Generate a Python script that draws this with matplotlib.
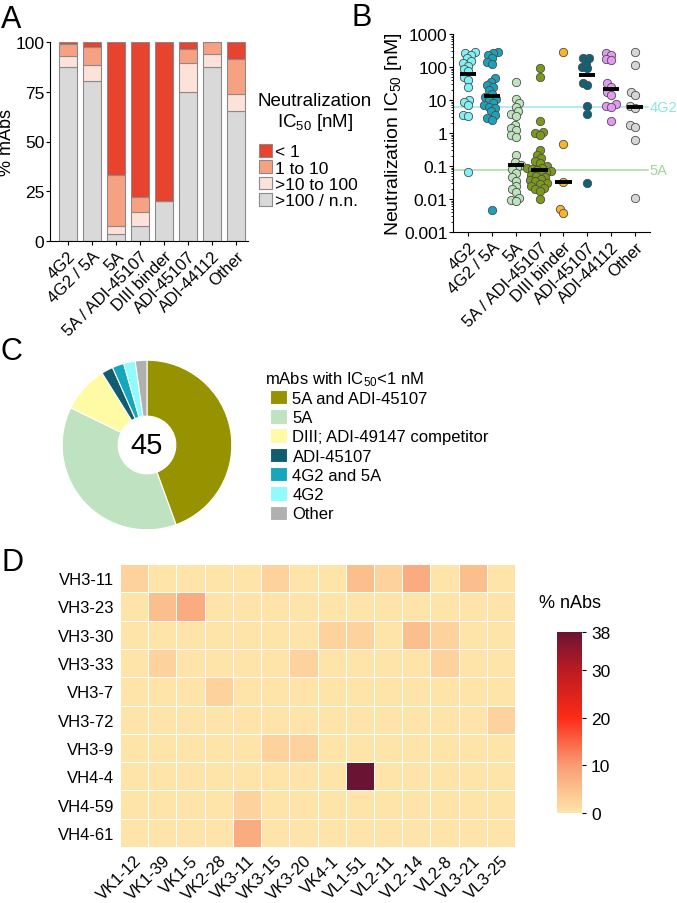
import numpy as np
import matplotlib
matplotlib.use('Agg')
import matplotlib.pyplot as plt
from matplotlib import font_manager
from matplotlib.colors import LinearSegmentedColormap
from matplotlib.ticker import FixedLocator, FixedFormatter, LogLocator, NullFormatter

# ---- data ----
groups = ['4G2', '4G2 / 5A', '5A', '5A / ADI-45107', 'DIII binder',
          'ADI-45107', 'ADI-44112', 'Other']

# panel A: % of mAbs per IC50 bin (bottom to top)
pct_gt100 = [87.5, 80.6, 3.7, 7.3, 20.0, 75.0, 87.5, 65.2]
pct_10_100 = [5.5, 7.8, 3.7, 7.3, 0.0, 14.3, 6.25, 8.7]
pct_1_10 = [5.8, 8.9, 25.9, 7.3, 0.0, 7.1, 6.25, 17.4]
pct_lt1 = [1.2, 2.7, 66.7, 78.1, 80.0, 3.6, 0.0, 8.7]
bin_labels = ['< 1', '1 to 10', '>10 to 100', '>100 / n.n.']

# panel B: IC50 values (nM)
ic50_4g2 = [290, 270, 230, 190, 150, 130, 110, 90, 75, 50, 40, 25, 10, 9, 7, 3.5, 3.2, 0.065]
ic50_4g2_5a = [280, 265, 225, 185, 140, 125, 45, 35, 28, 25, 20, 15, 12, 11, 10, 8, 7,
               6.3, 5.6, 4.5, 3.4, 2.8, 2.5, 0.0048]
ic50_5a = [35, 10.7, 8, 6.3, 4.5, 3.7, 3.2, 1.8, 1.4, 1.26, 0.9, 0.74, 0.21, 0.13, 0.11,
           0.093, 0.08, 0.063, 0.047, 0.036, 0.025, 0.02, 0.016, 0.011, 0.0093, 0.0085]
ic50_5a_adi = [95, 50, 2.3, 1.1, 1.0, 0.85, 0.3, 0.22, 0.17, 0.14, 0.12, 0.1, 0.09, 0.085,
               0.08, 0.075, 0.07, 0.065, 0.06, 0.055, 0.05, 0.045, 0.04, 0.037, 0.034,
               0.03, 0.028, 0.025, 0.022, 0.02, 0.018, 0.01]
ic50_diii = [280, 0.45, 0.033, 0.005, 0.0038]
ic50_adi45107 = [190, 185, 135, 100, 95, 33, 28, 6.5, 3.8, 0.03]
ic50_adi44112 = [270, 230, 180, 160, 32, 25, 18, 14, 7.5, 6.8, 6.2, 2.3]
ic50_other = [280, 115, 18, 14, 6.5, 5.8, 1.7, 1.5, 0.6, 0.0105]
ic50_medians = [62, 13.5, 0.11, 0.076, 0.033, 58, 21, 6.3]
ref_4g2 = 6.3
ref_5a = 0.075

# panel C
pie_labels = ['5A and ADI-45107', '5A', 'DIII; ADI-49147 competitor', 'ADI-45107',
              '4G2 and 5A', '4G2', 'Other']
pie_counts = [20, 17, 4, 1, 1, 1, 1]

# panel D
vh_genes = ['VH3-11', 'VH3-23', 'VH3-30', 'VH3-33', 'VH3-7', 'VH3-72', 'VH3-9',
            'VH4-4', 'VH4-59', 'VH4-61']
vl_genes = ['VK1-12', 'VK1-39', 'VK1-5', 'VK2-28', 'VK3-11', 'VK3-15', 'VK3-20',
            'VK4-1', 'VL1-51', 'VL2-11', 'VL2-14', 'VL2-8', 'VL3-21', 'VL3-25']
nabs_pct = [
    [2.6, 0, 0, 0, 0, 2.6, 0, 0, 5.3, 2.6, 7.9, 0, 5.3, 0],
    [0, 5.3, 7.9, 0, 0, 0, 0, 0, 0, 0, 0, 0, 0, 0],
    [0, 0, 0, 0, 0, 0, 0, 2.6, 2.6, 0, 5.3, 2.6, 0, 0],
    [0, 2.6, 0, 0, 0, 0, 2.6, 0, 0, 0, 0, 2.6, 0, 0],
    [0, 0, 0, 2.6, 0, 0, 0, 0, 0, 0, 0, 0, 0, 0],
    [0, 0, 0, 0, 0, 0, 0, 0, 0, 0, 0, 0, 0, 2.6],
    [0, 0, 0, 0, 0, 2.6, 2.6, 0, 0, 0, 0, 0, 0, 0],
    [0, 0, 0, 0, 0, 0, 0, 0, 38, 0, 0, 0, 0, 0],
    [0, 0, 0, 0, 2.6, 0, 0, 0, 0, 0, 0, 0, 0, 0],
    [0, 0, 0, 0, 7.9, 0, 0, 0, 0, 0, 0, 0, 0, 0],
]

# ---- style ----
plt.rcParams['font.family'] = ['Liberation Sans', 'DejaVu Sans']
plt.rcParams['mathtext.default'] = 'regular'
try:
    font_manager.findfont(font_manager.FontProperties(family='Liberation Sans Narrow'),
                          fallback_to_default=False)
    narrow, nfs = ['Liberation Sans Narrow', 'Liberation Sans'], 13.5
except ValueError:
    narrow, nfs = ['Liberation Sans', 'DejaVu Sans'], 12

W, H = 677, 904
fig = plt.figure(figsize=(W / 100, H / 100), dpi=100)


def box(l, t, r, b):
    # axes from pixel edges
    return fig.add_axes([l / W, 1 - b / H, (r - l) / W, (b - t) / H])


def ftext(x, y, s, **kw):
    return fig.text(x / W, 1 - y / H, s, **kw)


def swarm(vals, d=5.2, ppd=33.0, ppx=23.9):
    # simple beeswarm offsets (in category units); d < marker size lets dots overlap
    ys = np.log10(vals) * ppd
    xs = np.zeros(len(vals))
    placed = []
    for i in np.argsort(ys):
        y = ys[i]
        cands = [0.0]
        for px, py in placed:
            dy = abs(y - py)
            if dy < d:
                dx = np.sqrt(d * d - dy * dy)
                cands += [px - dx, px + dx]
        cands.sort(key=abs)
        for c in cands:
            if all((c - px) ** 2 + (y - py) ** 2 >= d * d - 1e-6 for px, py in placed):
                break
        placed.append((c, y))
        xs[i] = c / ppx
    return xs


# ---- A: stacked bars ----
axA = box(50, 43, 248, 242)
x = np.arange(len(groups))
bin_colors = ['#e8432f', '#f7a183', '#fde2d9', '#d9d9d9']
stack = [pct_gt100, pct_10_100, pct_1_10, pct_lt1]
stack_colors = bin_colors[::-1]
bottom = np.zeros(len(groups))
bars = []
for vals, col in zip(stack, stack_colors):
    b = axA.bar(x, vals, bottom=bottom, width=0.75, color=col, edgecolor='#8a8a8a', linewidth=0.8)
    bars.append(b)
    bottom += np.array(vals)
axA.set_xlim(-0.75, 7.5)
axA.set_ylim(0, 100)
axA.set_yticks([0, 25, 50, 75, 100])
axA.set_xticks(x)
axA.set_xticklabels(groups, rotation=45, ha='right', rotation_mode='anchor', fontsize=12)
axA.tick_params(axis='y', labelsize=12.5, length=3, pad=1)
axA.tick_params(axis='x', length=3, pad=2)
axA.set_ylabel('% mAbs', fontsize=13, labelpad=0)
for s in ['top', 'right']:
    axA.spines[s].set_visible(False)

ftext(315, 113, 'Neutralization\nIC$_{50}$ [nM]', fontsize=13.5, ha='center', va='center',
      multialignment='center', linespacing=1.1)
fig.legend(bars[::-1], bin_labels, loc='upper left', bbox_to_anchor=(259 / W, 1 - 145 / H),
           frameon=False, fontsize=12.5, handlelength=0.75, handleheight=0.75,
           handletextpad=0.2, labelspacing=0.05, borderaxespad=0, borderpad=0)

# ---- B: dot plot ----
axB = box(453, 35, 650, 233)
dot_colors = ['#80f2f4', '#1ba2b8', '#bde3bd', '#7c991b', '#f8b52a', '#0e6276', '#e39af0', '#d6d6d6']
all_ic50 = [ic50_4g2, ic50_4g2_5a, ic50_5a, ic50_5a_adi, ic50_diii, ic50_adi45107,
            ic50_adi44112, ic50_other]
axB.axhline(ref_4g2, color='#9fe8e8', lw=1.1, zorder=1, xmax=0.99)
axB.axhline(ref_5a, color='#a8d9a8', lw=1.1, zorder=1, xmax=0.99)
axB.text(7.6, ref_4g2, '4G2', color='#8ee3e3', fontsize=10.5, va='center', ha='left', clip_on=False)
axB.text(7.6, ref_5a, '5A', color='#9dd69d', fontsize=10.5, va='center', ha='left', clip_on=False)
for i, (vals, col) in enumerate(zip(all_ic50, dot_colors)):
    axB.scatter(i + swarm(vals), vals, s=36, color=col, edgecolor='#4d4d4d', linewidth=0.6,
                zorder=2)
axB.hlines(ic50_medians, x - 0.34, x + 0.34, color='black', lw=2.8, zorder=3)
axB.set_yscale('log')
axB.set_ylim(0.001, 1000)
axB.set_xlim(-0.63, 7.63)
axB.yaxis.set_major_locator(FixedLocator([0.001, 0.01, 0.1, 1, 10, 100, 1000]))
axB.yaxis.set_major_formatter(FixedFormatter(['0.001', '0.01', '0.1', '1', '10', '100', '1000']))
axB.yaxis.set_minor_locator(LogLocator(base=10, subs=np.arange(2, 10)))
axB.yaxis.set_minor_formatter(NullFormatter())
axB.set_xticks(x)
axB.set_xticklabels(groups, rotation=45, ha='right', rotation_mode='anchor', fontsize=12)
axB.tick_params(axis='y', which='major', labelsize=12.5, length=3, pad=1)
axB.tick_params(axis='y', which='minor', length=1.8)
axB.tick_params(axis='x', length=3, pad=2)
axB.set_ylabel('Neutralization IC$_{50}$ [nM]', fontsize=14, labelpad=0)
for s in ['top', 'right']:
    axB.spines[s].set_visible(False)

# ---- C: donut ----
axC = box(41, 340, 253, 552)
pie_colors = ['#979200', '#bfe3c0', '#fffaa4', '#0f5d6f', '#16a7bd', '#8ffbfd', '#b0b0b0']
wedges, _ = axC.pie(pie_counts, colors=pie_colors, startangle=90, counterclock=False,
                    radius=1, wedgeprops=dict(width=0.66, edgecolor='white', linewidth=0.8))
axC.text(0, 0, str(sum(pie_counts)), ha='center', va='center', fontsize=21, family=narrow)
ftext(265, 380, 'mAbs with IC$_{50}$<1 nM', fontsize=nfs, va='center', ha='left', family=narrow)
fig.legend(wedges, pie_labels, loc='upper left', bbox_to_anchor=(270 / W, 1 - 391 / H),
           frameon=False, prop={'family': narrow, 'size': nfs}, handlelength=1.0,
           handleheight=0.95, handletextpad=0.35, labelspacing=0.2, borderaxespad=0, borderpad=0)

# ---- D: heatmap ----
axD = box(120, 565, 515, 848)
cmap = LinearSegmentedColormap.from_list(
    'nabs', [(0, '#fee4a9'), (10 / 38, '#f99c74'), (20 / 38, '#fc2b17'),
             (30 / 38, '#bb1b22'), (1, '#6a1434')])
mesh = axD.pcolormesh(np.array(nabs_pct), cmap=cmap, vmin=0, vmax=38,
                      edgecolors='white', linewidth=0.7)
axD.set_ylim(len(vh_genes), 0)
axD.set_xticks(np.arange(len(vl_genes)) + 0.5)
axD.set_xticklabels(vl_genes, rotation=45, ha='right', rotation_mode='anchor',
                    fontsize=nfs, family=narrow)
axD.set_yticks(np.arange(len(vh_genes)) + 0.5)
axD.set_yticklabels(vh_genes, fontsize=nfs, family=narrow)
axD.tick_params(length=0, pad=4)
for s in axD.spines.values():
    s.set_visible(False)

cax = box(557, 633, 582, 814)
cb = fig.colorbar(mesh, cax=cax, ticks=[0, 10, 20, 30, 38])
cb.outline.set_visible(False)
cax.tick_params(labelsize=nfs + 0.5, length=3)
for t in cax.get_yticklabels():
    t.set_family(narrow)
ftext(570, 603, '% nAbs', fontsize=nfs + 1, ha='center', va='center', family=narrow)

# panel letters
ftext(1, 20, 'A', fontsize=22, va='center')
ftext(352, 18, 'B', fontsize=22, va='center')
ftext(1, 352, 'C', fontsize=22, va='center')
ftext(1, 563, 'D', fontsize=22, va='center')

fig.savefig('out.png', dpi=100)
